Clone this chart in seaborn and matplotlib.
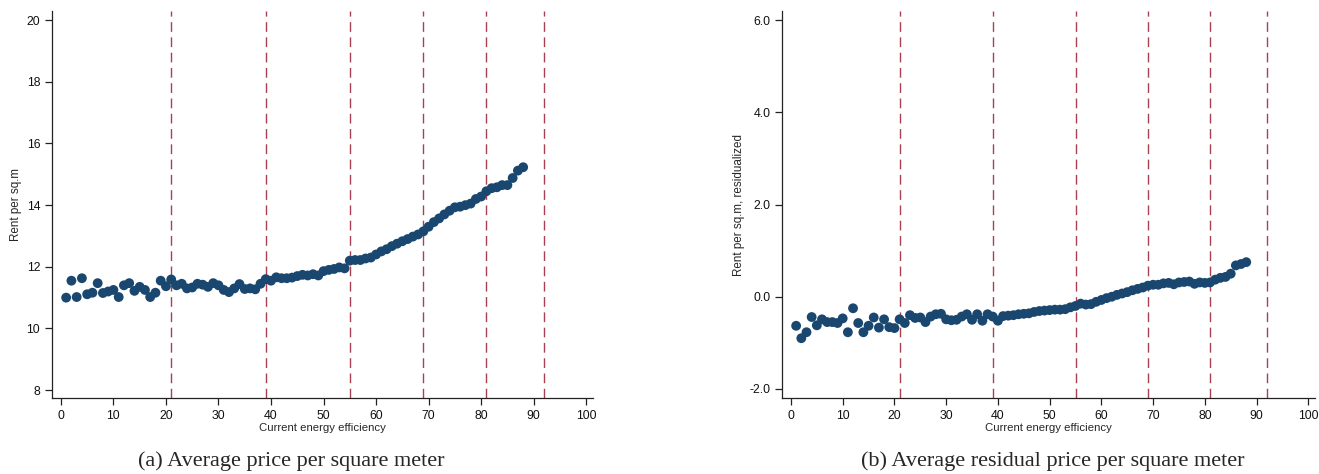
import numpy as np
import pandas as pd
import matplotlib
matplotlib.use("Agg")
import matplotlib.pyplot as plt
import seaborn as sns

# ---- data ----
efficiency = list(range(1, 89))
rent_avg = [11.00, 11.55, 11.02, 11.63, 11.11, 11.16, 11.47, 11.15, 11.20, 11.25,
            11.02, 11.40, 11.47, 11.22, 11.35, 11.25, 11.02, 11.16, 11.55, 11.37,
            11.59, 11.40, 11.45, 11.30, 11.33, 11.45, 11.42, 11.35, 11.47, 11.40,
            11.25, 11.18, 11.30, 11.44, 11.28, 11.30, 11.27, 11.45, 11.60, 11.55,
            11.66, 11.63, 11.63, 11.65, 11.70, 11.74, 11.72, 11.76, 11.72, 11.86,
            11.90, 11.93, 11.98, 11.95, 12.20, 12.22, 12.22, 12.27, 12.30, 12.40,
            12.50, 12.57, 12.67, 12.75, 12.83, 12.90, 12.98, 13.05, 13.15, 13.30,
            13.45, 13.57, 13.70, 13.82, 13.93, 13.95, 14.00, 14.05, 14.20, 14.28,
            14.45, 14.55, 14.58, 14.65, 14.65, 14.88, 15.12, 15.23]
rent_resid = [-0.63, -0.90, -0.77, -0.44, -0.62, -0.49, -0.55, -0.55, -0.57, -0.47,
              -0.77, -0.25, -0.57, -0.77, -0.63, -0.45, -0.67, -0.49, -0.66, -0.68,
              -0.49, -0.57, -0.40, -0.46, -0.45, -0.55, -0.43, -0.38, -0.37, -0.49,
              -0.51, -0.50, -0.43, -0.38, -0.50, -0.38, -0.52, -0.38, -0.43, -0.52,
              -0.42, -0.41, -0.40, -0.38, -0.37, -0.36, -0.33, -0.31, -0.30, -0.29,
              -0.28, -0.28, -0.27, -0.23, -0.20, -0.15, -0.17, -0.16, -0.11, -0.07,
              -0.03, 0.00, 0.04, 0.07, 0.10, 0.14, 0.17, 0.20, 0.24, 0.26,
              0.26, 0.29, 0.30, 0.27, 0.31, 0.32, 0.33, 0.28, 0.31, 0.30,
              0.31, 0.37, 0.41, 0.43, 0.50, 0.68, 0.71, 0.75]
cutoffs = [21, 39, 55, 69, 81, 92]
x_ticks = list(range(0, 101, 10))
left_yticks = [8, 10, 12, 14, 16, 18, 20]
right_yticks = [-2.0, 0.0, 2.0, 4.0, 6.0]
captions = ["(a) Average price per square meter",
            "(b) Average residual price per square meter"]
ylabels = ["Rent per sq.m", "Rent per sq.m, residualized"]
xlabel = "Current energy efficiency"

df = pd.DataFrame({"eff": efficiency, "avg": rent_avg, "resid": rent_resid})

sns.set_style("ticks")
plt.rcParams["font.family"] = ["Liberation Sans", "DejaVu Sans"]

fig = plt.figure(figsize=(13.19, 4.74), dpi=100)
ax1 = fig.add_axes([0.0394, 0.160, 0.4102, 0.817])
ax2 = fig.add_axes([0.5930, 0.160, 0.4040, 0.817])

marker_color = "#1a476f"
line_color = "#a9404f"

for ax, col, yticks, ylim, ylab, fmt in [
    (ax1, "avg", left_yticks, (7.74, 20.3), ylabels[0], "{:.0f}"),
    (ax2, "resid", right_yticks, (-2.2, 6.2), ylabels[1], "{:.1f}"),
]:
    for c in cutoffs:
        ax.axvline(c, color=line_color, lw=1.0, ls=(0, (7, 4)), zorder=1)
    sns.scatterplot(data=df, x="eff", y=col, ax=ax, color=marker_color,
                    s=50, edgecolor="none", zorder=3, legend=False)
    ax.set_xlim(-1.7, 101.3)
    ax.set_ylim(*ylim)
    ax.set_xticks(x_ticks)
    ax.set_yticks(yticks)
    ax.set_yticklabels([fmt.format(v) for v in yticks])
    ax.tick_params(axis="both", labelsize=8.8, length=5, width=0.9, color="#222222",
                   labelcolor="#111111")
    ax.set_xlabel(xlabel, fontsize=8.2, labelpad=1)
    ax.set_ylabel(ylab, fontsize=8.4, labelpad=3)
    for s in ["top", "right"]:
        ax.spines[s].set_visible(False)
    for s in ["left", "bottom"]:
        ax.spines[s].set_linewidth(0.9)
        ax.spines[s].set_color("#222222")

fig.text(0.221, 0.028, captions[0], ha="center", va="center", fontsize=16,
         family=["Liberation Serif", "DejaVu Serif"])
fig.text(0.798, 0.028, captions[1], ha="center", va="center", fontsize=16,
         family=["Liberation Serif", "DejaVu Serif"])

fig.savefig("out.png", dpi=100)
